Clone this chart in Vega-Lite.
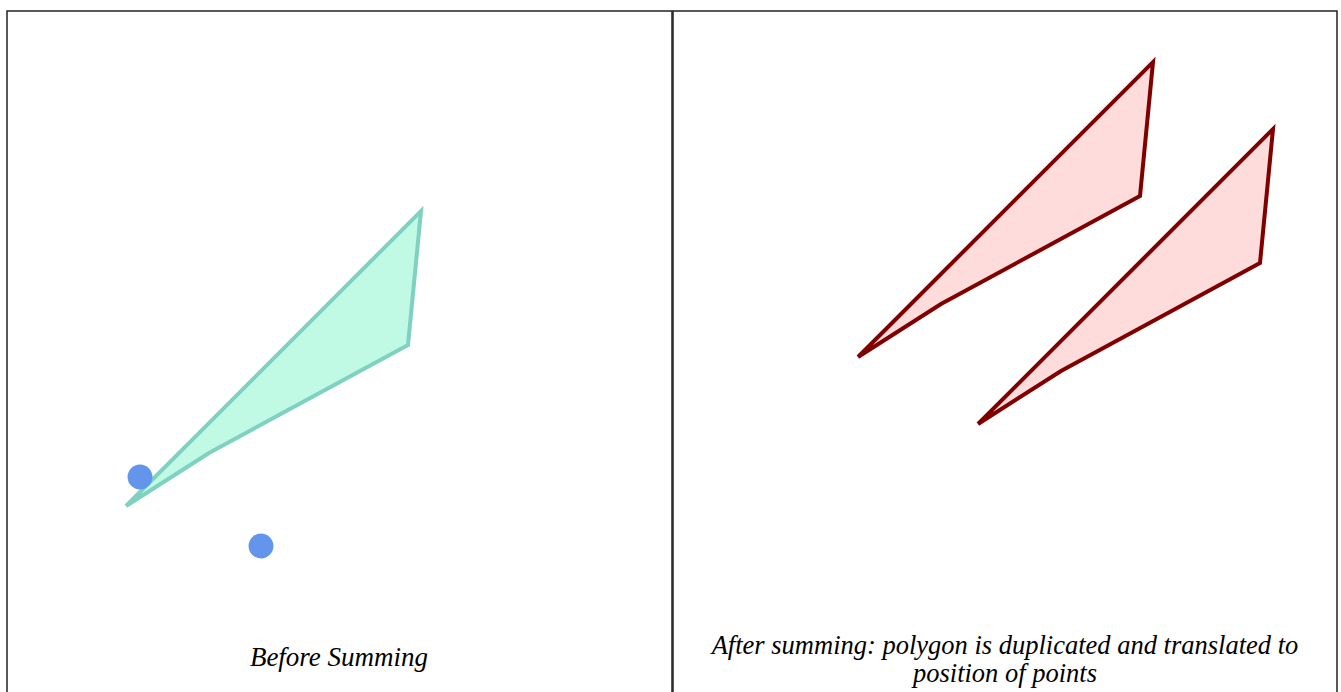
{
  "$schema": "https://vega.github.io/schema/vega-lite/v6.json",
  "padding": {"left": 6, "top": 10, "right": 0, "bottom": 0},
  "spacing": -2,
  "config": {"view": {"stroke": "#222222", "strokeWidth": 1.5}, "concat": {"spacing": -2}},
  "datasets": {
    "before_poly": [
      {"poly": "P", "i": 0, "x": 119, "y": 495},
      {"poly": "P", "i": 1, "x": 414, "y": 200},
      {"poly": "P", "i": 2, "x": 401, "y": 334},
      {"poly": "P", "i": 3, "x": 202, "y": 442},
      {"poly": "P", "i": 4, "x": 119, "y": 495}
    ],
    "before_points": [
      {"x": 133, "y": 466},
      {"x": 254, "y": 535}
    ],
    "after_poly": [
      {"poly": "A", "i": 0, "x": 185, "y": 346},
      {"poly": "A", "i": 1, "x": 480, "y": 51},
      {"poly": "A", "i": 2, "x": 467, "y": 185},
      {"poly": "A", "i": 3, "x": 268, "y": 293},
      {"poly": "A", "i": 4, "x": 185, "y": 346},
      {"poly": "B", "i": 0, "x": 305, "y": 413},
      {"poly": "B", "i": 1, "x": 600, "y": 118},
      {"poly": "B", "i": 2, "x": 587, "y": 252},
      {"poly": "B", "i": 3, "x": 388, "y": 360},
      {"poly": "B", "i": 4, "x": 305, "y": 413}
    ],
    "labels_before": [
      {"label": "Before Summing", "x": 332, "y": 655}
    ],
    "labels_after": [
      {"label": "After summing: polygon is duplicated and translated to", "x": 332, "y": 643},
      {"label": "position of points", "x": 332, "y": 671}
    ]
  },
  "hconcat": [
    {
      "width": 665,
      "height": 690,
      "layer": [
        {
          "data": {"name": "before_poly"},
          "mark": {"type": "line", "fill": "#c0f9e4", "stroke": "#7fd1c1", "strokeWidth": 4, "strokeJoin": "miter"},
          "encoding": {
            "x": {"field": "x", "type": "quantitative", "scale": {"domain": [0, 665], "nice": false, "zero": false}, "axis": null},
            "y": {"field": "y", "type": "quantitative", "scale": {"domain": [0, 690], "nice": false, "zero": false, "reverse": true}, "axis": null},
            "detail": {"field": "poly"},
            "order": {"field": "i", "type": "quantitative"}
          }
        },
        {
          "data": {"name": "before_points"},
          "mark": {"type": "circle", "color": "#6495ed", "opacity": 1, "size": 620},
          "encoding": {
            "x": {"field": "x", "type": "quantitative"},
            "y": {"field": "y", "type": "quantitative"}
          }
        },
        {
          "data": {"name": "labels_before"},
          "mark": {"type": "text", "font": "Liberation Serif", "fontStyle": "italic", "fontSize": 27, "align": "center", "baseline": "alphabetic", "color": "#000000"},
          "encoding": {
            "x": {"field": "x", "type": "quantitative"},
            "y": {"field": "y", "type": "quantitative"},
            "text": {"field": "label"}
          }
        }
      ]
    },
    {
      "width": 664,
      "height": 690,
      "layer": [
        {
          "data": {"name": "after_poly"},
          "mark": {"type": "line", "fill": "#ffdcdc", "stroke": "#800000", "strokeWidth": 4, "strokeJoin": "miter"},
          "encoding": {
            "x": {"field": "x", "type": "quantitative", "scale": {"domain": [0, 664], "nice": false, "zero": false}, "axis": null},
            "y": {"field": "y", "type": "quantitative", "scale": {"domain": [0, 690], "nice": false, "zero": false, "reverse": true}, "axis": null},
            "detail": {"field": "poly"},
            "order": {"field": "i", "type": "quantitative"}
          }
        },
        {
          "data": {"name": "labels_after"},
          "mark": {"type": "text", "font": "Liberation Serif", "fontStyle": "italic", "fontSize": 26.5, "align": "center", "baseline": "alphabetic", "color": "#000000"},
          "encoding": {
            "x": {"field": "x", "type": "quantitative"},
            "y": {"field": "y", "type": "quantitative"},
            "text": {"field": "label"}
          }
        }
      ]
    }
  ]
}
